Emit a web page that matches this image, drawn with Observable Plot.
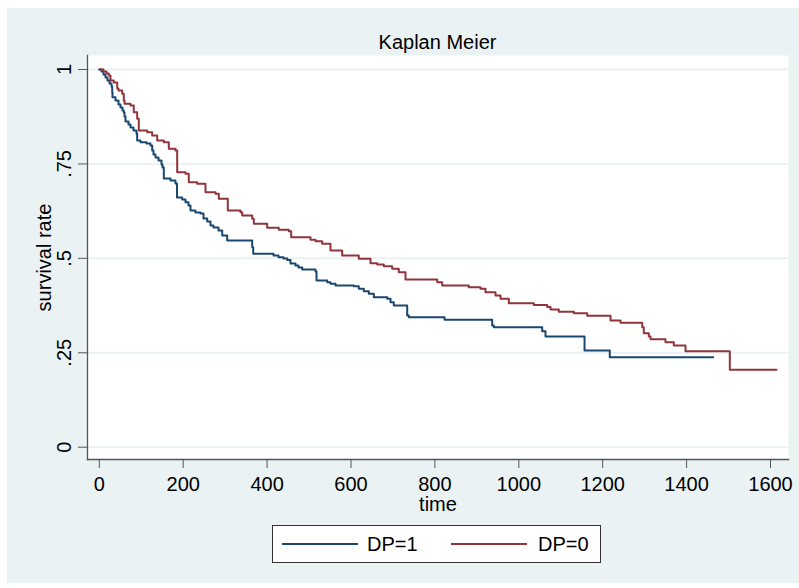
<!DOCTYPE html>
<html>
<head>
<meta charset="utf-8">
<script src="https://cdn.jsdelivr.net/npm/d3@7"></script>
<script src="https://cdn.jsdelivr.net/npm/@observablehq/plot@0.6"></script>
<style>
  html, body { margin: 0; padding: 0; background: #ffffff; }
  #page { position: relative; width: 799px; height: 588px; overflow: hidden; background: #ffffff;
          font-family: "Liberation Sans", Arial, sans-serif; color: #000; }
  #outer { position: absolute; left: 7px; top: 8px; width: 792px; height: 575px; background: #eaf2f3; }
  #title { position: absolute; left: 87px; width: 701px; top: 32px; height: 20px; line-height: 20px;
           font-size: 20px; text-align: center; }
  #chart { position: absolute; left: 0; top: 0; }
  #legend { position: absolute; left: 272px; top: 525px; width: 329px; height: 38px; box-sizing: border-box;
            border: 1px solid #333; background: #ffffff; }
  .sw { position: absolute; height: 2px; top: 17px; }
  .lt { position: absolute; top: 8px; font-size: 20px; line-height: 20px; }
</style>
</head>
<body>
<div id="page">
  <div id="outer"></div>
  <div id="title"></div>
  <div id="chart"></div>
  <div id="legend"></div>
</div>
<script>
// ---- data ----
const titleText = "Kaplan Meier";
const xLabel = "time";
const yLabel = "survival rate";
const groups = ["DP=1", "DP=0"];
const groupColors = ["#1a476f", "#90353b"];

const xTicks = [0, 200, 400, 600, 800, 1000, 1200, 1400, 1600];
const yTicks = [0, 0.25, 0.5, 0.75, 1];
const yTickLabels = ["0", ".25", ".5", ".75", "1"];

// DP=1 : step change times and survival after each step
const dp1Time = [0, 5.2, 10.0, 14.8, 19.5, 24.3, 29.1, 30.8, 31.5, 38.6, 45.8, 50.5, 55.3, 58.4, 60.1, 62.5,
  69.6, 74.4, 81.5, 88.7, 90.3, 98.2, 112.5, 122.0, 126.1, 129.2, 134.0, 141.1, 148.3, 150.7, 153.8,
  169.7, 181.6, 185.2, 197.6, 205.5, 212.6, 217.4, 229.3, 241.2, 248.4, 257.2, 265.1, 272.2, 284.2,
  293.0, 304.9, 364.5, 366.9, 415.3, 427.2, 439.1, 447.9, 455.8, 467.7, 474.8, 483.7, 515.4, 517.8,
  543.3, 551.1, 563.1, 606.7, 618.6, 630.5, 642.4, 654.4, 686.3, 694.2, 702.0, 734.0, 737.8, 822.9,
  936.6, 940.4, 1055.8, 1063.7, 1156.7, 1216.9, 1463.4];
const dp1Surv = [1, 0.9947, 0.9868, 0.9788, 0.9709, 0.9629, 0.9550, 0.9391, 0.9267, 0.9179, 0.9073, 0.8994,
  0.8915, 0.8862, 0.8756, 0.8623, 0.8544, 0.8464, 0.8385, 0.8306, 0.8120, 0.8075, 0.8041, 0.7988, 0.7855,
  0.7750, 0.7670, 0.7591, 0.7485, 0.7405, 0.7114, 0.7061, 0.6982, 0.6611, 0.6558, 0.6487, 0.6399, 0.6267,
  0.6214, 0.6188, 0.6055, 0.5976, 0.5870, 0.5817, 0.5738, 0.5605, 0.5473, 0.5295, 0.5120, 0.5075, 0.5030,
  0.4996, 0.4956, 0.4864, 0.4811, 0.4758, 0.4705, 0.4652, 0.4414, 0.4369, 0.4326, 0.4281, 0.4263, 0.4194,
  0.4130, 0.4061, 0.3971, 0.3929, 0.3839, 0.3752, 0.3487, 0.3442, 0.3373, 0.3222, 0.3177, 0.3071, 0.2931,
  0.2560, 0.2383, 0.2383];

// DP=0
const dp0Time = [0, 10.0, 17.2, 22.6, 26.7, 34.6, 42.7, 45.8, 54.6, 58.4, 60.1, 74.4, 82.2, 90.3, 94.2,
  114.2, 126.1, 138.0, 153.8, 165.7, 181.6, 185.7, 205.5, 213.3, 233.4, 253.2, 277.0, 284.9, 306.3,
  336.6, 340.6, 364.5, 368.3, 400.2, 427.9, 451.7, 457.4, 503.5, 515.4, 531.3, 551.1, 579.0, 618.6,
  646.5, 662.5, 678.2, 698.2, 713.9, 729.9, 805.5, 817.4, 880.8, 908.7, 920.6, 944.5, 956.4, 976.2,
  1035.8, 1067.7, 1075.6, 1095.4, 1131.1, 1163.1, 1218.6, 1242.5, 1294.2, 1298.0, 1309.9, 1314.0,
  1349.7, 1369.5, 1397.4, 1503.0, 1614.3];
const dp0Surv = [1, 0.9947, 0.9894, 0.9841, 0.9709, 0.9656, 0.9497, 0.9444, 0.9357, 0.9179, 0.9092, 0.9047,
  0.8869, 0.8695, 0.8385, 0.8340, 0.8253, 0.8120, 0.8075, 0.7900, 0.7855, 0.7281, 0.7239, 0.7016, 0.6974,
  0.6751, 0.6709, 0.6577, 0.6267, 0.6222, 0.6134, 0.6047, 0.5915, 0.5809, 0.5756, 0.5719, 0.5560, 0.5491,
  0.5454, 0.5385, 0.5208, 0.5075, 0.4988, 0.4872, 0.4837, 0.4792, 0.4723, 0.4633, 0.4440, 0.4369, 0.4281,
  0.4236, 0.4194, 0.4104, 0.4016, 0.3929, 0.3813, 0.3765, 0.3712, 0.3646, 0.3585, 0.3548, 0.3479, 0.3355,
  0.3294, 0.3177, 0.3018, 0.2931, 0.2859, 0.2780, 0.2693, 0.2542, 0.2049, 0.2049];

// ---- build table ----
const rows = [
  ...dp1Time.map((t, i) => ({time: t, surv: dp1Surv[i], group: groups[0]})),
  ...dp0Time.map((t, i) => ({time: t, surv: dp0Surv[i], group: groups[1]}))
];

document.getElementById("title").textContent = titleText;

const W = 799, H = 520;
const chart = Plot.plot({
  width: W,
  height: H,
  marginLeft: 87,
  marginRight: 11,
  marginTop: 55,
  marginBottom: 61,
  style: {
    background: "transparent",
    fontFamily: "'Liberation Sans', Arial, sans-serif",
    fontSize: "20px",
    color: "#000",
    overflow: "visible"
  },
  x: {domain: [-28.1, 1642.9]},
  y: {domain: [-0.0326, 1.0371]},
  color: {domain: groups, range: groupColors},
  marks: [
    Plot.frame({fill: "white", stroke: "none"}),
    Plot.ruleY(yTicks, {stroke: "#eaf2f3", strokeWidth: 2}),
    Plot.line(rows, {x: "time", y: "surv", z: "group", stroke: "group", curve: "step-after", strokeWidth: 2}),
    Plot.frame({anchor: "left", stroke: "#555", strokeWidth: 1.3}),
    Plot.frame({anchor: "bottom", stroke: "#555", strokeWidth: 1.3}),
    Plot.axisX({ticks: xTicks, tickSize: 9, tickPadding: 8, label: null, stroke: "#555", fill: "#000",
      tickFormat: d => String(d)}),
    Plot.axisY({ticks: yTicks, tickSize: 9, tickPadding: 8, label: null, stroke: "#555", fill: "#000",
      tickRotate: -90, textAnchor: "middle", lineAnchor: "bottom",
      tickFormat: d => yTickLabels[yTicks.indexOf(d)]}),
    Plot.text([xLabel], {frameAnchor: "bottom", text: d => d, lineAnchor: "bottom", dy: 51, fill: "#000"}),
    Plot.text([yLabel], {frameAnchor: "left", text: d => d, rotate: -90, textAnchor: "middle",
      lineAnchor: "bottom", dx: -37, fill: "#000"})
  ]
});
document.getElementById("chart").appendChild(chart);

// ---- legend ----
const legend = document.getElementById("legend");
const swLeft = [9, 178], txtLeft = [94, 265];
groups.forEach((g, i) => {
  const s = document.createElement("div");
  s.className = "sw";
  s.style.left = swLeft[i] + "px";
  s.style.width = "76px";
  s.style.background = groupColors[i];
  legend.appendChild(s);
  const t = document.createElement("div");
  t.className = "lt";
  t.style.left = txtLeft[i] + "px";
  t.textContent = g;
  legend.appendChild(t);
});
</script>
</body>
</html>
